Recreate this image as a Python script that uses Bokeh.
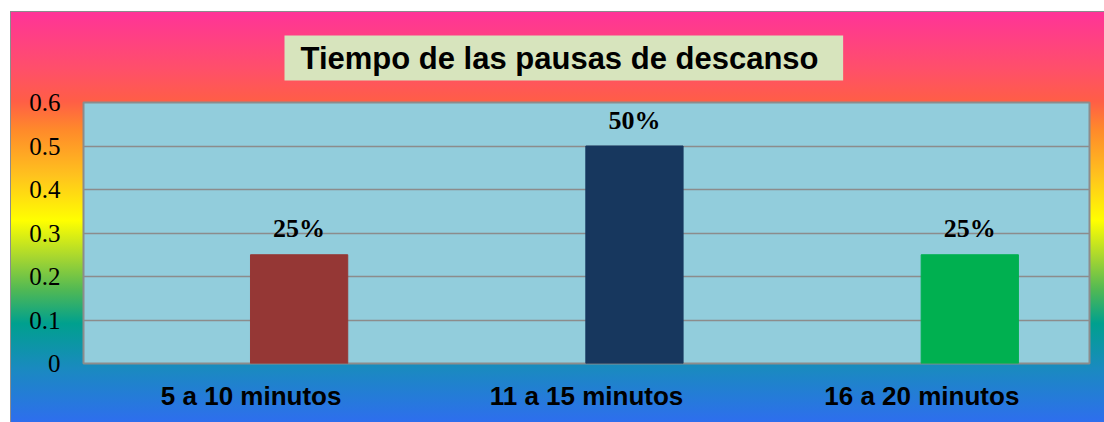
from bokeh.plotting import figure
from bokeh.models import FixedTicker, ColumnDataSource, Title
from bokeh.core.properties import value
from bokeh.transform import dodge
from bokeh.embed import file_html
from bokeh.resources import INLINE

title_text = "Tiempo de las  pausas de descanso"
categories = ["5 a 10 minutos", "11 a 15 minutos", "16 a 20 minutos"]
values = [0.25, 0.50, 0.25]
labels = ["25%", "50%", "25%"]
colors = ["#953735", "#17375E", "#00B050"]
y_ticks = [0, 0.1, 0.2, 0.3, 0.4, 0.5, 0.6]
y_tick_labels = ["0", "0.1", "0.2", "0.3", "0.4", "0.5", "0.6"]

gradient = ("linear-gradient(to bottom, #FF3399 0%, #FF4F6A 14%, #FF5E46 22%, "
            "#FF8A2A 29%, #FFC21E 40%, #FFFF00 51%, #A6D630 60%, #4FB855 68%, "
            "#00A08E 76%, #1A8AC0 87%, #2E6EEE 100%)")

p = figure(x_range=categories, y_range=(0, 0.6), width=1094, height=411,
           output_backend="svg", toolbar_location=None,
           min_border_left=73, min_border_right=15, min_border_top=90,
           min_border_bottom=59)
p.styles = {"background": gradient, "margin-left": "10px", "margin-top": "11px",
            "box-shadow": "inset 1px 1px 0 #8C8C8C"}
p.border_fill_color = None
p.background_fill_color = "#92CDDC"
p.outline_line_color = "#8C8C8C"
p.outline_line_width = 2

src = ColumnDataSource(dict(x=categories, top=values, color=colors, label=labels))
bar_x = dodge("x", 0.143, range=p.x_range)
p.vbar(x=bar_x, top="top", width=0.29, color="color", source=src)
p.text(x=bar_x, y="top", text="label", source=src, y_offset=-26,
       text_align="center", text_baseline="middle",
       text_font=value("Liberation Serif"), text_font_style="bold",
       text_font_size="26px", text_color="black")

p.xgrid.grid_line_color = None
p.ygrid.grid_line_color = "#8C8C8C"
p.ygrid.grid_line_width = 1.5
p.ygrid.ticker = FixedTicker(ticks=y_ticks)

p.yaxis.ticker = FixedTicker(ticks=y_ticks)
p.yaxis.major_label_overrides = {t: l for t, l in zip(y_ticks, y_tick_labels)}
for ax in (p.xaxis, p.yaxis):
    ax.axis_line_color = None
    ax.major_tick_line_color = None
    ax.minor_tick_line_color = None
    ax.major_tick_out = 0
    ax.major_label_text_color = "black"
p.yaxis.major_label_text_font = "Liberation Serif"
p.yaxis.major_label_text_font_size = "25px"
p.yaxis.major_label_standoff = 23
p.xaxis.major_label_text_font = "Liberation Sans"
p.xaxis.major_label_text_font_style = "bold"
p.xaxis.major_label_text_font_size = "26px"
p.xaxis.major_label_standoff = 17

p.title = Title(text=title_text, align="left", offset=201, standoff=44,
                text_font="Liberation Sans", text_font_style="bold",
                text_font_size="31px", text_color="black",
                background_fill_color="#D7E4BD", padding=(16, 5))

open("out.html", "w").write(file_html(p, INLINE))
